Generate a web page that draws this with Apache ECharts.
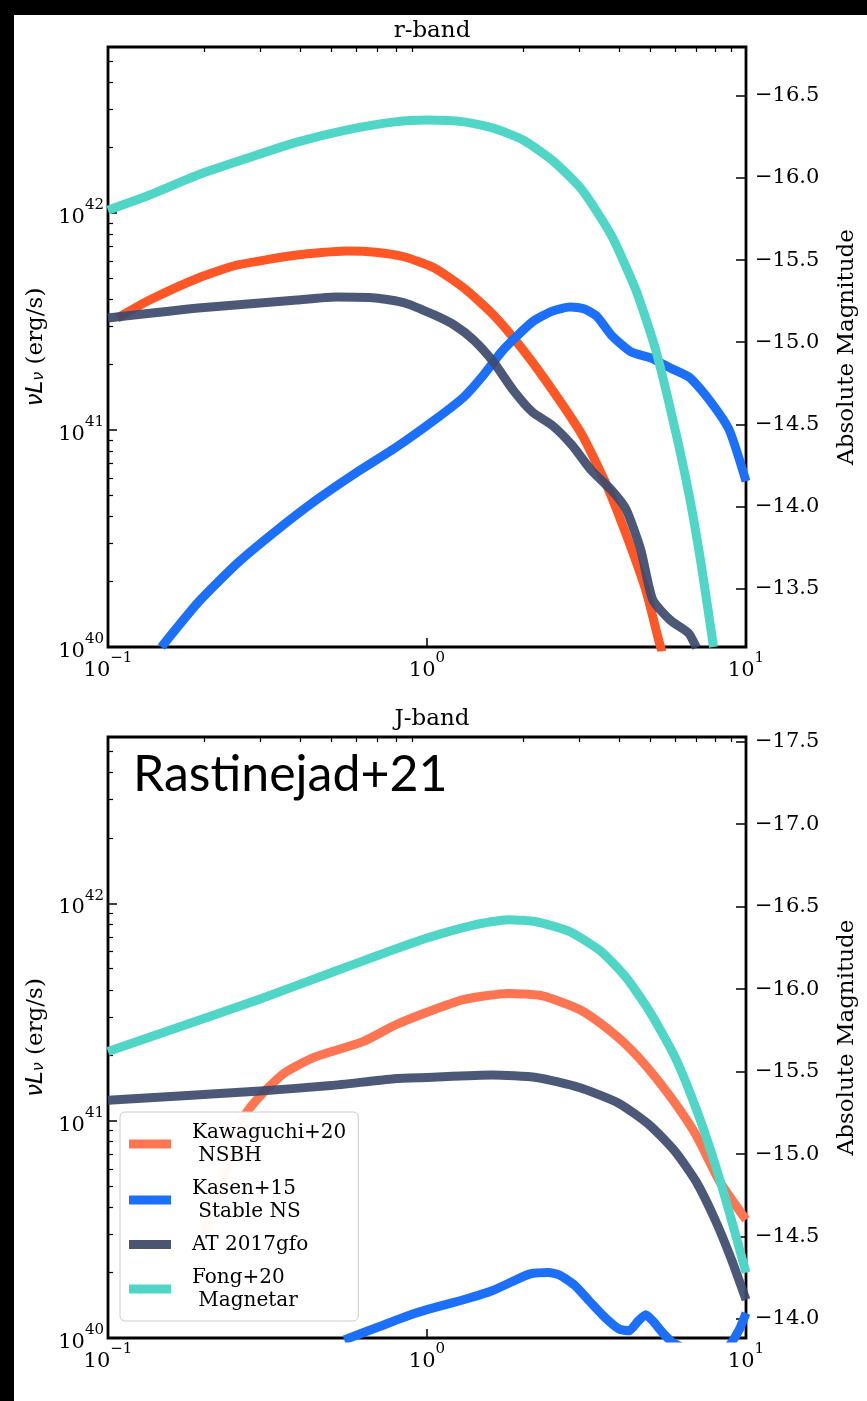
<!DOCTYPE html>
<html><head><meta charset="utf-8">
<script src="https://cdn.jsdelivr.net/npm/echarts@6/dist/echarts.min.js"></script>
<style>
html,body{margin:0;padding:0;background:#fff;}
#c{width:867px;height:1401px;}
</style></head><body>
<div id="c"></div>
<script>
// ---------- tick values ----------
const xMajor = [0.1, 1, 10];
const xMinor = [0.2,0.3,0.4,0.5,0.6,0.7,0.8,0.9,2,3,4,5,6,7,8,9];
const yMajor = [1e40, 1e41, 1e42];
const yMinor = [2e40,3e40,4e40,5e40,6e40,7e40,8e40,9e40,2e41,3e41,4e41,5e41,6e41,7e41,8e41,9e41,2e42,3e42,4e42,5e42];
const magTicksR = [-16.5,-16.0,-15.5,-15.0,-14.5,-14.0,-13.5];
const magTicksJ = [-17.5,-17.0,-16.5,-16.0,-15.5,-15.0,-14.5,-14.0];

// ---------- r-band (top) : time [days], nuL_nu [erg/s] ----------
const rKawT = [0.107,0.135,0.192,0.255,0.391,0.557,0.689,0.852,1.054,1.305,1.615,2.0,2.47,3.06,3.65,4.21,4.85,5.32,5.45];
const rKawL = [3.28e41,3.97e41,5.02e41,5.76e41,6.40e41,6.68e41,6.60e41,6.27e41,5.58e41,4.51e41,3.39e41,2.34e41,1.53e41,9.5e40,5.6e40,3.3e40,1.83e40,1.08e40,0.95e40];
const rKasT = [0.147,0.192,0.255,0.339,0.450,0.598,0.794,1.054,1.305,1.503,1.733,2.14,2.47,2.81,3.10,3.40,3.78,4.36,5.02,5.79,6.67,7.69,8.86,10];
const rKasL = [1.0e40,1.61e40,2.44e40,3.46e40,4.76e40,6.34e40,8.26e40,1.11e41,1.42e41,1.79e41,2.34e41,3.15e41,3.53e41,3.69e41,3.62e41,3.35e41,2.74e41,2.29e41,2.15e41,1.93e41,1.74e41,1.37e41,1.0e41,5.8e40];
const rATT  = [0.1,0.192,0.391,0.518,0.689,0.852,1.054,1.215,1.40,1.615,1.861,2.14,2.47,2.85,3.28,3.78,4.21,4.68,5.1,5.79,6.6,7.0];
const rATL  = [3.28e41,3.65e41,3.97e41,4.10e41,4.06e41,3.85e41,3.39e41,3.05e41,2.60e41,2.06e41,1.53e41,1.21e41,1.05e41,8.5e40,6.5e40,5.3e40,4.3e40,2.8e40,1.65e40,1.33e40,1.16e40,0.99e40];
const rFongT = [0.1,0.135,0.192,0.274,0.391,0.557,0.794,1.0,1.305,1.615,2.0,2.47,3.06,3.78,4.52,5.21,6.0,6.67,7.27,7.91];
const rFongL = [1.03e42,1.21e42,1.50e42,1.79e42,2.12e42,2.41e42,2.63e42,2.68e42,2.63e42,2.46e42,2.17e42,1.75e42,1.28e42,7.9e41,4.4e41,2.34e41,1.0e41,4.8e40,2.3e40,1.0e40];

// ---------- J-band (bottom) ----------
const jKawT = [0.2,0.24,0.268,0.30,0.356,0.44,0.63,0.79,1.0,1.3,1.8,2.3,3.0,3.5,4.2,5.0,6.0,7.0,8.3,10];
const jKawL = [3.0e40,6.5e40,1.05e41,1.30e41,1.65e41,1.95e41,2.31e41,2.74e41,3.15e41,3.6e41,3.85e41,3.75e41,3.25e41,2.8e41,2.24e41,1.70e41,1.20e41,8.5e40,5.2e40,3.5e40];
const jKasT = [0.55,0.7,0.85,1.0,1.3,1.6,1.9,2.1,2.4,2.6,2.9,3.2,3.6,4.0,4.3,4.6,4.85,5.1,5.5,5.9,6.3,7.2,8.2,8.8,9.2,9.6,10];
const jKasL = [0.98e40,1.12e40,1.25e40,1.35e40,1.5e40,1.65e40,1.85e40,1.97e40,2.0e40,1.95e40,1.75e40,1.5e40,1.25e40,1.1e40,1.08e40,1.2e40,1.28e40,1.2e40,1.05e40,0.95e40,0.9e40,0.6e40,0.6e40,0.9e40,1.0e40,1.12e40,1.3e40];
const jATT  = [0.1,0.3,0.5,0.79,1.0,1.6,2.2,3.0,4.0,5.0,6.0,7.0,8.0,9.0,10];
const jATL  = [1.24e41,1.37e41,1.45e41,1.56e41,1.58e41,1.62e41,1.58e41,1.42e41,1.20e41,9.5e40,7.2e40,5.2e40,3.5e40,2.3e40,1.5e40];
const jFongT = [0.1,0.2,0.3,0.5,0.7,1.0,1.4,1.8,2.2,2.8,3.5,4.2,5.0,6.0,7.0,8.0,9.0,10];
const jFongL = [2.08e41,2.95e41,3.63e41,4.79e41,5.75e41,6.92e41,7.94e41,8.41e41,8.22e41,7.41e41,6.03e41,4.57e41,3.16e41,1.95e41,1.12e41,6.3e40,3.5e40,2.0e40];

const legendNames = ['Kawaguchi+20\n NSBH','Kasen+15\n Stable NS','AT 2017gfo','Fong+20\n Magnetar'];

// ---------- styling ----------
const C_KAW_R = '#ff5626', C_KAW_J = '#ff7552', C_KAS = '#1b6ff8', C_AT = '#3d4a6c', C_FONG = '#4fd6c6';
const SERIF = 'DejaVu Serif';
const supRich = {
  b:{fontFamily:SERIF,fontSize:21,color:'#000',verticalAlign:'bottom',lineHeight:30},
  s:{fontFamily:SERIF,fontSize:15,color:'#000',verticalAlign:'top',lineHeight:30}
};
function powLabel(v){ const e=Math.round(Math.log10(v)); return '{b|10}{s|'+(e<0?'\u2212'+(-e):e)+'}'; }
function magLabel(v){ return '\u2212'+Math.abs(v).toFixed(1); }
const YMAX = Math.pow(10, 42.765);

const grids = [
  {left:108, top:47, width:649, height:600},
  {left:108, top:737, width:649, height:601}
];
const xAxes=[], yAxes=[];
function panel(gi, magMin, magMax, magTicks){
  xAxes.push({gridIndex:gi,type:'log',logBase:10,min:0.1,max:10,axisLine:{show:false},splitLine:{show:false},
    axisTick:{inside:true,length:9,lineStyle:{color:'#000',width:1.5},customValues:xMajor},
    axisLabel:{customValues:xMajor,formatter:powLabel,rich:supRich,margin:4,color:'#000'}});
  xAxes.push({gridIndex:gi,type:'log',logBase:10,min:0.1,max:10,axisLine:{show:false},splitLine:{show:false},
    axisTick:{inside:true,length:5,lineStyle:{color:'#000',width:1.2},customValues:xMinor},
    axisLabel:{show:false}});
  yAxes.push({gridIndex:gi,type:'log',logBase:10,min:1e40,max:YMAX,position:'left',axisLine:{show:false},splitLine:{show:false},
    axisTick:{inside:true,length:9,lineStyle:{color:'#000',width:1.5},customValues:yMajor},
    axisLabel:{customValues:yMajor,formatter:powLabel,rich:supRich,margin:4,color:'#000'},
    name:'{m|\u03bdL}{u|\u03bd}{t| (erg/s)}',nameLocation:'middle',nameGap:60,
    nameTextStyle:{rich:{
      m:{fontFamily:'DejaVu Sans',fontStyle:'italic',fontSize:23,color:'#000',verticalAlign:'bottom',lineHeight:30},
      u:{fontFamily:'DejaVu Sans',fontStyle:'italic',fontSize:16,color:'#000',verticalAlign:'bottom',lineHeight:26},
      t:{fontFamily:SERIF,fontSize:23,color:'#000',verticalAlign:'bottom',lineHeight:30}}}});
  yAxes.push({gridIndex:gi,type:'log',logBase:10,min:1e40,max:YMAX,position:'left',axisLine:{show:false},splitLine:{show:false},
    axisTick:{inside:true,length:5,lineStyle:{color:'#000',width:1.2},customValues:yMinor},
    axisLabel:{show:false}});
  yAxes.push({gridIndex:gi,type:'value',min:magMin,max:magMax,inverse:true,position:'right',axisLine:{show:false},splitLine:{show:false},
    axisTick:{inside:true,length:10,lineStyle:{color:'#000',width:1.5},customValues:magTicks},
    axisLabel:{customValues:magTicks,formatter:magLabel,fontFamily:SERIF,fontSize:21,color:'#000',margin:9},
    name:'Absolute Magnitude',nameLocation:'middle',nameRotate:90,nameGap:90,
    nameTextStyle:{fontFamily:SERIF,fontSize:23,color:'#000'}});
}
panel(0, -16.798, -13.144, magTicksR);
panel(1, -17.528, -13.885, magTicksJ);

function mk(name,t,L,color,gi,op){
  return {type:'line',name,xAxisIndex:gi*2,yAxisIndex:gi*3,data:t.map((x,i)=>[x,L[i]]),
    showSymbol:false,symbol:'none',smooth:0.2,clip:true,silent:true,
    lineStyle:{width:9,color,opacity:op,cap:'butt',join:'round'},itemStyle:{color},emphasis:{disabled:true}};
}
const series = [
  mk('Kawaguchi r',rKawT,rKawL,C_KAW_R,0,1),
  mk('Kasen r',rKasT,rKasL,C_KAS,0,1),
  mk('AT r',rATT,rATL,C_AT,0,0.92),
  mk('Fong r',rFongT,rFongL,C_FONG,0,1),
  mk(legendNames[0],jKawT,jKawL,C_KAW_J,1,1),
  mk(legendNames[1],jKasT,jKasL,C_KAS,1,1),
  mk(legendNames[2],jATT,jATL,C_AT,1,0.92),
  mk(legendNames[3],jFongT,jFongL,C_FONG,1,1)
];
const legendColors = [C_KAW_J, C_KAS, '#4a5572', C_FONG];

const chart = echarts.init(document.getElementById('c'), null, {renderer:'canvas'});
chart.setOption({
  animation:false,
  backgroundColor:'#fff',
  grid: grids.map(g=>Object.assign({show:true,borderColor:'#000',borderWidth:2.8,backgroundColor:'transparent',containLabel:false},g)),
  xAxis:xAxes, yAxis:yAxes, series,
  legend:{show:true,orient:'vertical',left:120,top:1112,selectedMode:false,
    data:legendNames.map((n,i)=>({name:n,itemStyle:{color:legendColors[i]}})),
    icon:'rect',itemWidth:42,itemHeight:9,itemGap:10,padding:[9,12,9,9],
    backgroundColor:'rgba(255,255,255,0.96)',borderColor:'#cccccc',borderWidth:1,borderRadius:5,
    textStyle:{fontFamily:SERIF,fontSize:20,lineHeight:23,color:'#000',padding:[0,0,0,16]}},
  graphic:[
    {type:'rect',shape:{x:0,y:0,width:14,height:1401},style:{fill:'#000'},z:100},
    {type:'rect',shape:{x:0,y:0,width:867,height:15},style:{fill:'#000'},z:100},
    {type:'text',x:432,y:31,style:{text:'r-band',fontFamily:SERIF,fontSize:23,fill:'#000',textAlign:'center',textVerticalAlign:'middle'}},
    {type:'text',x:432,y:719,style:{text:'J-band',fontFamily:SERIF,fontSize:23,fill:'#000',textAlign:'center',textVerticalAlign:'middle'}},
    {type:'text',x:133,y:775,style:{text:'Rastinejad+21',fontFamily:'Lato',fontSize:50,fill:'#000',textAlign:'left',textVerticalAlign:'middle'},z:50}
  ]
});
</script>
</body></html>
